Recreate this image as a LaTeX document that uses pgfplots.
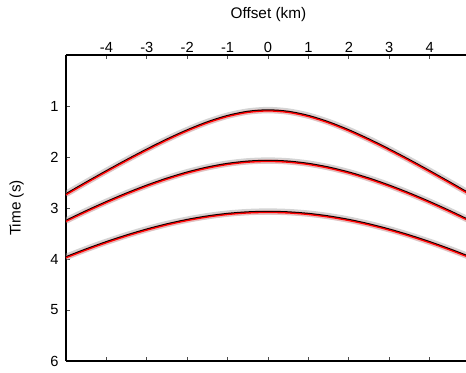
\documentclass[border=0pt]{standalone}
\usepackage{pgfplots}
\pgfplotsset{compat=1.18}
\usepackage{fontspec}
\setmainfont{Liberation Sans}
\begin{document}
\begin{tikzpicture}
\pgfplotsset{
  halo/.style={line width=4.8pt, color=gray!75, opacity=0.45, smooth, no marks},
  pink/.style={line width=3.2pt, color=red!35, opacity=0.5, smooth, no marks},
  blk/.style={line width=1.2pt, color=black, smooth, no marks},
  rd/.style={line width=1.0pt, color=red, smooth, no marks},
}
\begin{axis}[
  name=ax,
  scale only axis,
  width=300pt, height=229.5pt,
  xmin=-5, xmax=4.9,
  ymin=0, ymax=6,
  y dir=reverse,
  axis x line*=box,
  axis y line*=left,
  xticklabel pos=upper,
  xtick={-4,-3,-2,-1,0,1,2,3,4},
  ytick={1,2,3,4,5,6},
  tick align=inside,
  major tick length=3pt,
  tick style={color=black!70, line width=0.5pt},
  axis line style={line width=0.9pt},
  xlabel={Offset (km)},
  ylabel={Time (s)},
  /pgf/number format/assume math mode=true,
  ticklabel style={font=\fontsize{11}{13}\selectfont},
  xticklabel style={anchor=base, yshift=1.8pt},
  yticklabel style={anchor=east, xshift=-2pt},
  label style={font=\fontsize{11.5}{13}\selectfont},
  xlabel style={at={(axis description cs:0.506,1)}, anchor=center, yshift=30pt},
  ylabel style={at={(axis description cs:0,0.5)}, anchor=center, yshift=37pt},
  clip=true,
]
\addplot[halo] coordinates {(-5,2.7233)(-4.5,2.4958)(-4,2.2730)(-3.5,2.0564)(-3,1.8484)(-2.5,1.6519)(-2,1.4719)(-1.5,1.3149)(-1,1.1901)(-0.5,1.1086)(0,1.08)(0.5,1.1086)(1,1.1901)(1.5,1.3149)(2,1.4719)(2.5,1.6519)(3,1.8484)(3.5,2.0564)(4,2.2730)(4.5,2.4958)(5,2.7233)};
\addplot[halo] coordinates {(-5,3.2458)(-4.5,3.0574)(-4,2.8783)(-3.5,2.7106)(-3,2.5564)(-2.5,2.4182)(-2,2.2989)(-1.5,2.2017)(-1,2.1295)(-0.5,2.0851)(0,2.07)(0.5,2.0851)(1,2.1295)(1.5,2.2017)(2,2.2989)(2.5,2.4182)(3,2.5564)(3.5,2.7106)(4,2.8783)(4.5,3.0574)(5,3.2458)};
\addplot[halo] coordinates {(-5,3.9592)(-4.5,3.8062)(-4,3.6640)(-3.5,3.5338)(-3,3.4168)(-2.5,3.3147)(-2,3.2288)(-1.5,3.1603)(-1,3.1104)(-0.5,3.0802)(0,3.07)(0.5,3.0802)(1,3.1104)(1.5,3.1603)(2,3.2288)(2.5,3.3147)(3,3.4168)(3.5,3.5338)(4,3.6640)(4.5,3.8062)(5,3.9592)};
\addplot[pink] coordinates {(-5,2.7383)(-4.5,2.5108)(-4,2.2880)(-3.5,2.0714)(-3,1.8634)(-2.5,1.6669)(-2,1.4869)(-1.5,1.3299)(-1,1.2051)(-0.5,1.1236)(0,1.095)(0.5,1.1236)(1,1.2051)(1.5,1.3299)(2,1.4869)(2.5,1.6669)(3,1.8634)(3.5,2.0714)(4,2.2880)(4.5,2.5108)(5,2.7383)};
\addplot[pink] coordinates {(-5,3.2608)(-4.5,3.0724)(-4,2.8933)(-3.5,2.7256)(-3,2.5714)(-2.5,2.4332)(-2,2.3139)(-1.5,2.2167)(-1,2.1445)(-0.5,2.1001)(0,2.085)(0.5,2.1001)(1,2.1445)(1.5,2.2167)(2,2.3139)(2.5,2.4332)(3,2.5714)(3.5,2.7256)(4,2.8933)(4.5,3.0724)(5,3.2608)};
\addplot[pink] coordinates {(-5,3.9742)(-4.5,3.8212)(-4,3.6790)(-3.5,3.5488)(-3,3.4318)(-2.5,3.3297)(-2,3.2438)(-1.5,3.1753)(-1,3.1254)(-0.5,3.0952)(0,3.085)(0.5,3.0952)(1,3.1254)(1.5,3.1753)(2,3.2438)(2.5,3.3297)(3,3.4318)(3.5,3.5488)(4,3.6790)(4.5,3.8212)(5,3.9742)};
\addplot[blk] coordinates {(-5,2.7233)(-4.5,2.4958)(-4,2.2730)(-3.5,2.0564)(-3,1.8484)(-2.5,1.6519)(-2,1.4719)(-1.5,1.3149)(-1,1.1901)(-0.5,1.1086)(0,1.08)(0.5,1.1086)(1,1.1901)(1.5,1.3149)(2,1.4719)(2.5,1.6519)(3,1.8484)(3.5,2.0564)(4,2.2730)(4.5,2.4958)(5,2.7233)};
\addplot[blk] coordinates {(-5,3.2458)(-4.5,3.0574)(-4,2.8783)(-3.5,2.7106)(-3,2.5564)(-2.5,2.4182)(-2,2.2989)(-1.5,2.2017)(-1,2.1295)(-0.5,2.0851)(0,2.07)(0.5,2.0851)(1,2.1295)(1.5,2.2017)(2,2.2989)(2.5,2.4182)(3,2.5564)(3.5,2.7106)(4,2.8783)(4.5,3.0574)(5,3.2458)};
\addplot[blk] coordinates {(-5,3.9592)(-4.5,3.8062)(-4,3.6640)(-3.5,3.5338)(-3,3.4168)(-2.5,3.3147)(-2,3.2288)(-1.5,3.1603)(-1,3.1104)(-0.5,3.0802)(0,3.07)(0.5,3.0802)(1,3.1104)(1.5,3.1603)(2,3.2288)(2.5,3.3147)(3,3.4168)(3.5,3.5338)(4,3.6640)(4.5,3.8062)(5,3.9592)};
\addplot[rd] coordinates {(-5,2.7403)(-4.5,2.5128)(-4,2.2900)(-3.5,2.0734)(-3,1.8654)(-2.5,1.6689)(-2,1.4889)(-1.5,1.3319)(-1,1.2071)(-0.5,1.1256)(0,1.097)(0.5,1.1256)(1,1.2071)(1.5,1.3319)(2,1.4889)(2.5,1.6689)(3,1.8654)(3.5,2.0734)(4,2.2900)(4.5,2.5128)(5,2.7403)};
\addplot[rd] coordinates {(-5,3.2628)(-4.5,3.0744)(-4,2.8953)(-3.5,2.7276)(-3,2.5734)(-2.5,2.4352)(-2,2.3159)(-1.5,2.2187)(-1,2.1465)(-0.5,2.1021)(0,2.087)(0.5,2.1021)(1,2.1465)(1.5,2.2187)(2,2.3159)(2.5,2.4352)(3,2.5734)(3.5,2.7276)(4,2.8953)(4.5,3.0744)(5,3.2628)};
\addplot[rd] coordinates {(-5,3.9762)(-4.5,3.8232)(-4,3.6810)(-3.5,3.5508)(-3,3.4338)(-2.5,3.3317)(-2,3.2458)(-1.5,3.1773)(-1,3.1274)(-0.5,3.0972)(0,3.087)(0.5,3.0972)(1,3.1274)(1.5,3.1773)(2,3.2458)(2.5,3.3317)(3,3.4338)(3.5,3.5508)(4,3.6810)(4.5,3.8232)(5,3.9762)};
\end{axis}
\path (ax.south west) ++(-49.5pt,-9pt) coordinate (A);
\path (ax.north east) ++(0pt,41.25pt) coordinate (B);
\pgfresetboundingbox
\path (A) rectangle (B);
\end{tikzpicture}
\end{document}
